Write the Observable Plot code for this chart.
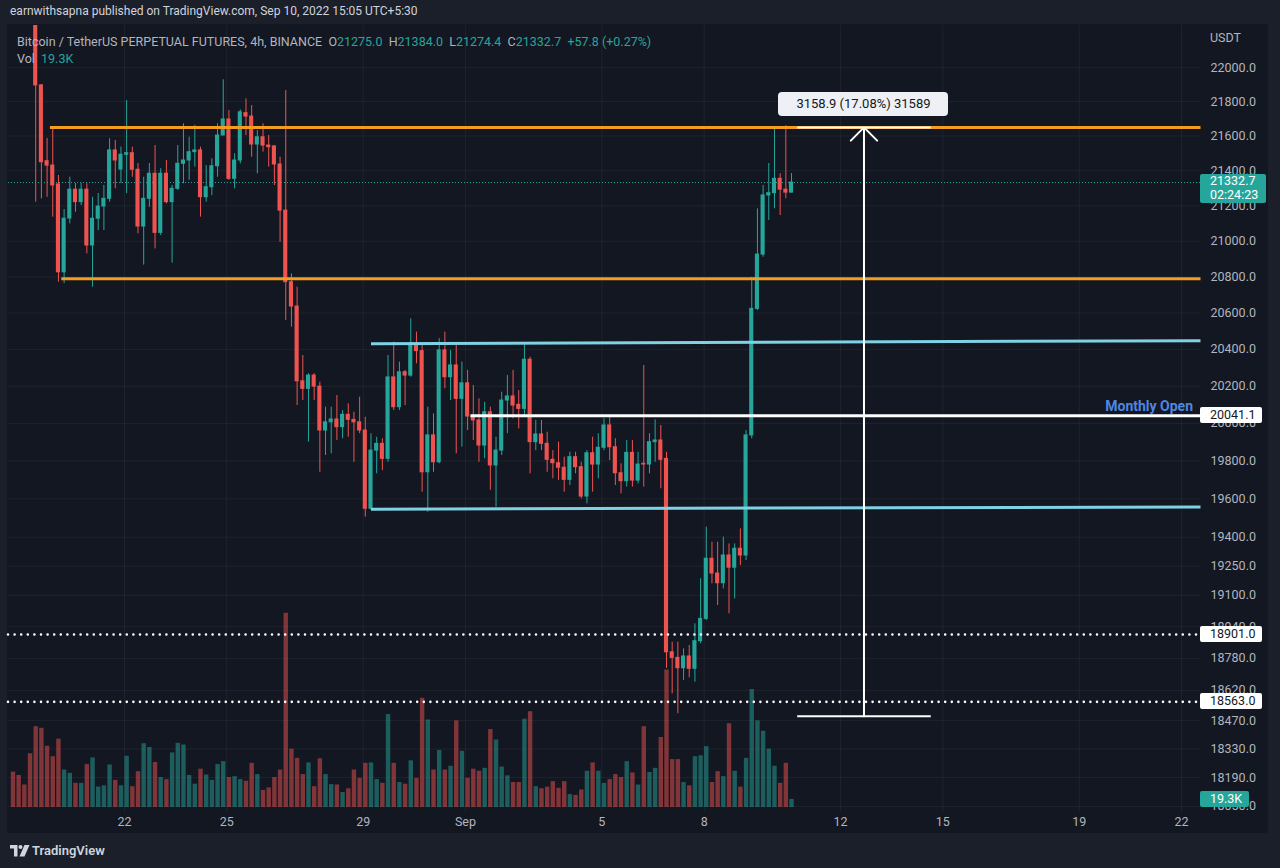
<!DOCTYPE html>
<html><head><meta charset="utf-8">
<script src="https://cdn.jsdelivr.net/npm/d3@7"></script>
<script src="https://cdn.jsdelivr.net/npm/@observablehq/plot@0.6"></script>
<style>
html,body{margin:0;padding:0;}
body{width:1280px;height:868px;background:#1b1f2a;position:relative;overflow:hidden;font-family:Roboto,"Noto Sans",sans-serif;}
#panel{position:absolute;left:7px;top:24px;width:1261px;height:809px;background:#131722;border-radius:3px;}
#chart{position:absolute;left:0;top:0;width:1280px;height:835px;}
#chart svg{position:absolute;left:0;top:0;}
#hdr{position:absolute;left:10px;top:4px;font-size:12px;color:#d1d4dc;white-space:nowrap;}
#title{position:absolute;left:17px;top:33px;font-size:12.5px;color:#b2b5be;white-space:nowrap;line-height:17px;}
#title .v{color:#26a69a;}
.box{position:absolute;font-size:12.5px;white-space:nowrap;box-sizing:border-box;}
#footer{position:absolute;left:0;top:835px;width:1280px;height:33px;background:#1b1f2a;}
#footer .logo{position:absolute;left:10px;top:10px;}
#footer .name{position:absolute;left:32px;top:8px;font-size:13px;font-weight:600;color:#d1d4dc;}
</style></head>
<body>
<div id="panel"></div>
<div id="chart"></div>
<div id="hdr">earnwithsapna published on TradingView.com, Sep 10, 2022 15:05 UTC+5:30</div>
<div id="title">Bitcoin / TetherUS PERPETUAL FUTURES, 4h, BINANCE&nbsp;&nbsp;O<span class="v">21275.0</span>&nbsp;&nbsp;H<span class="v">21384.0</span>&nbsp;&nbsp;L<span class="v">21274.4</span>&nbsp;&nbsp;C<span class="v">21332.7</span>&nbsp;&nbsp;<span class="v">+57.8 (+0.27%)</span><br>Vol&nbsp;&nbsp;<span class="v">19.3K</span></div>
<div id="footer"><svg class="logo" width="20" height="12" viewBox="0 0 20 12"><path d="M0 0h7.5v11.5H4V3.5H0z" fill="#d1d4dc"/><circle cx="10.5" cy="2" r="2" fill="#d1d4dc"/><path d="M14.5 0h5l-5 11.5H9.5z" fill="#d1d4dc"/></svg><div class="name">TradingView</div></div>
<script>
// ---- data (4h candles, times in UTC+5:30 local clock) ----
const firstCandle = Date.UTC(2022, 7, 18, 17, 30);
const volume = [85,77,54,129,194,190,147,122,164,90,82,58,58,103,119,49,52,102,65,52,
123,50,86,153,144,108,72,67,131,154,150,77,56,92,78,65,103,110,72,74,
67,63,106,79,41,47,72,90,466,140,118,79,107,50,117,79,55,54,36,45,
90,70,106,107,67,58,223,106,60,56,112,70,262,210,90,137,90,99,208,135,
70,92,87,94,187,162,97,76,60,60,212,230,50,45,49,62,46,62,31,29,
42,87,107,87,58,67,79,72,110,83,54,194,84,94,168,330,115,115,60,52,
122,124,146,60,86,74,201,87,49,118,283,208,183,140,99,58,106,19.3];
const open = [null,null,null,null,22600,21895,21455,21430,21322,20826,21128,21292,21221,21292,20976,21127,21196,21240,21517,21407,
21492,21501,21406,21083,21240,21383,21047,21383,21221,21297,21440,21459,21507,21517,21249,21306,21426,21603,21696,21354,
21459,21733,21713,21551,21593,21545,21540,21436,21173,20771,20636,20227,20186,20258,20198,19962,20006,20021,19980,20046,
20019,20006,19962,19548,19855,19891,19811,20248,20087,20276,20258,20422,20391,19740,19936,19793,20395,20249,20313,20132,
20216,20037,20016,19882,20060,19776,19855,20123,20145,20100,20078,20344,19900,19941,19891,19806,19788,19764,19700,19820,
19767,19612,19841,19781,19870,19989,19873,19735,19693,19843,19696,19785,19781,19900,19909,19811,18811,18783,18731,18790,
18728,18867,18980,19288,19212,19162,19305,19242,19340,19305,19936,20623,20925,21259,21272,21354,21292,21275.0];
const high = [null,null,null,null,22650,21900,21586,21642,21373,21179,21363,21327,21328,21326,21249,21270,21316,21584,21574,21536,
21806,21536,21442,21363,21442,21545,21412,21459,21316,21545,21671,21593,21662,21536,21430,21469,21671,21928,21748,21498,
21752,21816,21777,21632,21671,21603,21545,21478,21865,20817,20743,20367,20268,20268,20222,20087,20087,20150,20069,20105,
20060,20141,20033,19945,19926,19918,20367,20440,20331,20286,20568,20495,20431,20087,20051,20459,20495,20395,20422,20331,
20286,20204,20132,20114,20087,19926,20168,20258,20286,20177,20435,20358,20016,20016,19953,19855,19900,19820,19846,19846,
19793,19855,19926,19945,20025,20042,19918,19785,19909,19909,19846,20313,19945,20019,19989,19846,18862,18862,18828,18845,
18955,19185,19452,19374,19374,19400,19365,19365,19443,19962,20798,21183,21316,21442,21650,21383,21660,21384.0];
const low = [null,null,null,null,21221,21240,21249,21136,20771,20763,21098,21164,21202,20929,20743,21060,21060,21221,21297,21326,
21269,21363,21042,20866,21192,20957,21032,21211,20877,21288,21326,21345,21421,21136,21221,21258,21363,21603,21345,21297,
21440,21603,21478,21383,21507,21421,21316,20994,20559,20522,20096,20123,19900,20123,19740,19829,19838,19909,19918,19926,
19793,19945,19504,19539,19732,19749,19793,20069,20069,20096,20249,20322,19635,19530,19740,19785,20186,20123,19838,19873,
19962,19909,19793,19811,19645,19556,19829,19945,20025,19971,20033,19732,19855,19855,19740,19706,19697,19635,19670,19732,
19600,19574,19635,19706,19855,19802,19670,19626,19662,19662,19679,19662,19732,19793,19653,18730,18603,18504,18670,18683,
18661,18854,18972,19159,19048,19133,19006,19082,19253,19279,19918,20614,20910,21117,21183,21145,21240,21274.4];
const close = [null,null,null,null,21895,21449,21430,21316,20826,21127,21292,21221,21292,20976,21127,21196,21240,21517,21459,21492,
21501,21406,21083,21240,21383,21047,21383,21221,21297,21440,21459,21507,21517,21249,21306,21426,21603,21696,21354,21459,
21738,21713,21551,21593,21545,21536,21436,21173,20771,20636,20227,20186,20258,20198,19962,20006,20021,19980,20046,20019,
20006,19962,19548,19855,19891,19811,20248,20087,20276,20258,20422,20391,19740,19936,19793,20395,20249,20313,20132,20216,
20037,20016,19882,20060,19776,19855,20123,20145,20096,20078,20344,19900,19941,19891,19806,19788,19764,19700,19820,19767,
19612,19841,19781,19870,19989,19873,19735,19693,19843,19696,19781,19781,19900,19909,19806,18811,18783,18731,18790,18728,
18867,18980,19288,19212,19162,19305,19242,19340,19305,19936,20623,20925,21259,21272,21354,21292,21275,21332.7];

// horizontal drawings
const orangeLevels = [
  {start:"2022-08-19T19:30Z", p1:21650, p2:21650},
  {start:"2022-08-20T03:30Z", p1:20790, p2:20790}
];
const blueLevels = [
  {start:"2022-08-29T05:30Z", p1:20432, p2:20448},
  {start:"2022-08-29T05:30Z", p1:19546, p2:19558}
];
const monthlyOpen = {start:"2022-09-01T03:30Z", price:20041.1};
const dottedLevels = [18901.0, 18563.0];
const lastPrice = 21332.7;
const lastVolume = 19.3;
const measure = {from:"2022-09-10T17:30Z", to:"2022-09-14T15:30Z", mid:"2022-09-12T16:30Z", low:18491.1, high:21650.0, text:"3158.9 (17.08%) 31589"};

const yTicks = [22000,21800,21600,21400,21200,21000,20800,20600,20400,20200,20000,19800,19600,19400,19250,19100,18940,18780,18620,18470,18330,18190,18050];
const xTickDates = ["2022-08-22","2022-08-25","2022-08-29","2022-09-01","2022-09-05","2022-09-08","2022-09-12","2022-09-15","2022-09-19","2022-09-22"];
const xTickLabels = ["22","25","29","Sep","5","8","12","15","19","22"];

(function () {
const H4 = 4 * 3600e3;
const rows = volume.map((v, i) => ({t: new Date(firstCandle + i * H4), open: open[i], high: high[i], low: low[i], close: close[i], vol: v}));
const candles = rows.filter(d => d.open != null);
const UP = "#26a69a", DN = "#ef5350";
const isUp = d => d.open != null && d.close >= d.open;
const xTicks = xTickDates.map(s => new Date(s));
const labelMap = new Map(xTicks.map((d, i) => [+d, xTickLabels[i]]));
const xDomain = [new Date(Date.UTC(2022,7,18,14,21)), new Date(Date.UTC(2022,8,22,13,22))];
const yDomain = [18021, 22249];
const toDate = s => new Date(s);

const common = {
  width: 1280, height: 835, marginTop: 25, marginBottom: 23, marginLeft: 8, marginRight: 80,
  style: {background: "transparent", color: "#b2b5be", fontFamily: "Roboto, sans-serif", fontSize: "12.5px", overflow: "visible"}
};

const basePlot = Plot.plot({
  ...common,
  x: {type: "utc", domain: xDomain},
  y: {type: "log", domain: yDomain},
  marks: [
    Plot.gridY(yTicks, {stroke: "#ffffff", strokeOpacity: 0.05}),
    Plot.gridX(xTicks, {stroke: "#ffffff", strokeOpacity: 0.05}),
    Plot.axisY(yTicks, {anchor: "right", tickSize: 0, tickPadding: 10, tickFormat: d3.format(".1f"), label: null}),
    Plot.axisX(xTicks, {anchor: "bottom", tickSize: 0, tickPadding: 5, tickFormat: d => labelMap.get(+d), label: null})
  ]
});

const volPlot = Plot.plot({
  ...common, marginBottom: 28,
  x: {type: "utc", domain: xDomain, axis: null},
  y: {domain: [0, 1876.8], axis: null},
  marks: [
    Plot.ruleX(rows, {x: "t", y1: 0, y2: "vol", stroke: d => isUp(d) ? UP : DN, strokeOpacity: 0.5, strokeWidth: 4.4, clip: true})
  ]
});

const half = 1.45 * 3600e3;
const pricePlot = Plot.plot({
  ...common,
  x: {type: "utc", domain: xDomain, axis: null},
  y: {type: "log", domain: yDomain, axis: null},
  marks: [
    Plot.ruleY([lastPrice], {stroke: UP, strokeWidth: 1, strokeDasharray: "1,2"}),
    Plot.ruleX(candles, {x: "t", y1: "low", y2: "high", stroke: d => isUp(d) ? UP : DN, strokeWidth: 1, clip: true}),
    Plot.rect(candles, {x1: d => new Date(+d.t - half), x2: d => new Date(+d.t + half), y1: "open", y2: "close",
      fill: d => isUp(d) ? UP : DN, insetTop: -0.5, insetBottom: -0.5, clip: true}),
    Plot.link(orangeLevels, {x1: d => toDate(d.start), x2: () => xDomain[1], y1: "p1", y2: "p2", stroke: "#f39c1d", strokeWidth: 3}),
    Plot.link(blueLevels, {x1: d => toDate(d.start), x2: () => xDomain[1], y1: "p1", y2: "p2", stroke: "#7fd1e4", strokeWidth: 3}),
    Plot.link([monthlyOpen], {x1: d => toDate(d.start), x2: () => xDomain[1], y1: "price", y2: "price", stroke: "#ffffff", strokeWidth: 3}),
    Plot.ruleY(dottedLevels, {stroke: "#ffffff", strokeWidth: 2.6, strokeDasharray: "0,6.6", strokeLinecap: "round"}),
    Plot.link([measure], {x1: d => toDate(d.from), x2: d => toDate(d.to), y1: "high", y2: "high", stroke: "#ffffff", strokeWidth: 2}),
    Plot.link([measure], {x1: d => toDate(d.from), x2: d => toDate(d.to), y1: "low", y2: "low", stroke: "#ffffff", strokeWidth: 2}),
    Plot.arrow([measure], {x: d => toDate(d.mid), y1: "low", y2: "high", stroke: "#ffffff", strokeWidth: 2, headLength: 14, headAngle: 90})
  ]
});

const chart = document.getElementById("chart");
chart.append(basePlot, volPlot, pricePlot);

// ---- labels placed with the plot's scales ----
const sx = pricePlot.scale("x"), sy = pricePlot.scale("y"), sv = volPlot.scale("y");
const right = 1200;
function box(text, yc, opts) {
  const el = document.createElement("div");
  el.className = "box";
  el.innerHTML = text;
  const h = opts.h || 16;
  Object.assign(el.style, {left: (opts.left ?? right) + "px", top: (yc - h / 2) + "px", height: h + "px", width: opts.w + "px",
    background: opts.bg || "transparent", color: opts.color || "#131722", lineHeight: (opts.lh || h) + "px",
    paddingLeft: (opts.pl ?? 10) + "px", borderRadius: (opts.r ?? 2) + "px", textAlign: opts.align || "left",
    fontWeight: opts.bold ? "700" : "400", fontSize: (opts.fs || 12.5) + "px"});
  document.body.appendChild(el);
  return el;
}
box("USDT", 38, {w: 60, color: "#b2b5be"});
box("21332.7<br>02:24:23", sy.apply(lastPrice) + 6.5, {w: 66, h: 29, lh: 14, bg: UP, color: "#ffffff"});
box(monthlyOpen.price.toFixed(1), sy.apply(monthlyOpen.price), {w: 62, bg: "#ffffff"});
dottedLevels.forEach(p => box(p.toFixed(1), sy.apply(p), {w: 62, bg: "#ffffff"}));
box(lastVolume + "K", sv.apply(lastVolume), {w: 49, bg: UP, color: "#ffffff"});
box("Monthly Open", sy.apply(monthlyOpen.price) - 9, {left: 1080, w: 113, h: 18, pl: 0, align: "right", color: "#5086e0", bold: true, fs: 14, bg: "transparent"});
const mx = sx.apply(toDate(measure.mid));
box(measure.text, sy.apply(measure.high) - 23, {left: mx - 85, w: 170, h: 24, pl: 0, align: "center", bg: "#eef0f5", color: "#131722", r: 4, fs: 13});
})();
</script>
</body></html>
